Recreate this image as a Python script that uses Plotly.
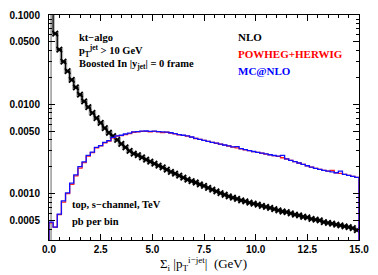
import plotly.graph_objects as go

# ---- data ----
bin_width = 0.2
n_bins = 75
bin_edges = [round(i * bin_width, 1) for i in range(n_bins + 1)]
bin_centers = [round((i + 0.5) * bin_width, 2) for i in range(n_bins)]

nlo = [0.5, 0.062, 0.041, 0.030, 0.0235, 0.0188, 0.0155, 0.0128, 0.0108, 0.0093,
       0.0080, 0.0070, 0.0062, 0.0054, 0.0048, 0.0044, 0.0040, 0.0036, 0.0033, 0.0030,
       0.0028, 0.0027, 0.00255, 0.0024, 0.00228, 0.00216, 0.00206, 0.00196, 0.00185, 0.00175,
       0.00167, 0.00159, 0.00151, 0.00143, 0.00138, 0.00133, 0.00127, 0.00122, 0.00116, 0.00111,
       0.00106, 0.00101, 0.00097, 0.00093, 0.00090, 0.00087, 0.00084, 0.00082, 0.00079, 0.00077,
       0.00075, 0.00073, 0.00071, 0.00069, 0.00067, 0.00065, 0.00063, 0.00062, 0.00060, 0.00058,
       0.00057, 0.00055, 0.00054, 0.00052, 0.00051, 0.00050, 0.00048, 0.00047, 0.00046, 0.00045,
       0.00044, 0.00043, 0.00042, 0.00041, 0.00039]

powheg = [0.00047, 0.00042, 0.00058, 0.00080, 0.00100, 0.00127, 0.00158, 0.00193, 0.00222, 0.00262,
          0.00287, 0.00325, 0.00342, 0.00370, 0.00388, 0.00420, 0.00440, 0.00446, 0.00458, 0.00470,
          0.00486, 0.00492, 0.00498, 0.00496, 0.00490, 0.00497, 0.00492, 0.00482, 0.00486, 0.00476,
          0.00468, 0.00456, 0.00448, 0.00440, 0.00428, 0.00414, 0.00404, 0.00394, 0.00384, 0.00374,
          0.00366, 0.00357, 0.00349, 0.00341, 0.00332, 0.00325, 0.00317, 0.00309, 0.00302, 0.00295,
          0.00289, 0.00283, 0.00277, 0.00271, 0.00266, 0.00261, 0.00252, 0.00244, 0.00236, 0.00228,
          0.00220, 0.00212, 0.00205, 0.00198, 0.00192, 0.00187, 0.00182, 0.00178, 0.00182, 0.00171,
          0.00168, 0.00164, 0.00160, 0.00156, 0.00152]

mcatnlo = [0.00048, 0.00042, 0.00059, 0.00083, 0.00102, 0.00131, 0.00162, 0.00200, 0.00226, 0.00268,
           0.00291, 0.00330, 0.00345, 0.00375, 0.00391, 0.00425, 0.00443, 0.00450, 0.00465, 0.00475,
           0.00490, 0.00495, 0.00500, 0.00502, 0.00498, 0.00500, 0.00495, 0.00490, 0.00488, 0.00480,
           0.00470, 0.00458, 0.00450, 0.00442, 0.00430, 0.00416, 0.00405, 0.00395, 0.00385, 0.00375,
           0.00367, 0.00358, 0.00350, 0.00342, 0.00333, 0.00335, 0.00318, 0.00310, 0.00303, 0.00296,
           0.00290, 0.00284, 0.00278, 0.00272, 0.00267, 0.00262, 0.00268, 0.00245, 0.00236, 0.00228,
           0.00220, 0.00212, 0.00205, 0.00198, 0.00192, 0.00187, 0.00182, 0.00178, 0.00175, 0.00171,
           0.00178, 0.00164, 0.00160, 0.00156, 0.00152]

first_bin_band = (1e-4, 1.0)

y_ticks = [0.0005, 0.0010, 0.0050, 0.0100, 0.0500, 0.1000]
y_tick_text = ["0.0005", "0.0010", "0.0050", "0.0100", "0.0500", "0.1000"]
y_minor = [m * 10.0 ** k for k in (-4, -3, -2) for m in (2, 3, 4, 6, 7, 8, 9)]
x_ticks = [0.0, 2.5, 5.0, 7.5, 10.0, 12.5, 15.0]
x_tick_text = ["0.0", "2.5", "5.0", "7.5", "10.0", "12.5", "15.0"]
x_minor = [round(0.5 * i, 1) for i in range(31)]

y_floor = 1e-4
log_range = [-3.52, -1.0]

W, H = 378, 275
ML, MR, MT, MB = 44, 10, 9, 35
PW, PH = W - ML - MR, H - MT - MB


def px_to_paper(px, py):
    return (px - ML) / PW, (H - MB - py) / PH


def step_xy(vals, closed):
    xs = list(bin_edges)
    ys = list(vals) + [vals[-1]]
    if closed:
        xs = [bin_edges[0]] + xs + [bin_edges[-1]]
        ys = [y_floor] + ys + [y_floor]
    return xs, ys


fig = go.Figure()

# NLO gray band (approximate)
xs, ys = step_xy(nlo, False)
fig.add_trace(go.Scatter(x=xs, y=ys, mode="lines", line_shape="hv",
                         line=dict(color="#b4b4b4", width=3.5), hoverinfo="skip"))
fig.add_trace(go.Scatter(x=[bin_centers[0], bin_centers[0]], y=list(first_bin_band), mode="lines",
                         line=dict(color="#9a9a9a", width=1.5), hoverinfo="skip"))
fig.add_trace(go.Scatter(x=xs, y=ys, mode="lines", line_shape="hv",
                         line=dict(color="black", width=1.2), name="NLO"))
fig.add_trace(go.Scatter(x=bin_centers[1:], y=nlo[1:], mode="markers",
                         marker=dict(symbol="x-thin", size=5.5, line=dict(color="black", width=1.8)),
                         hoverinfo="skip"))

xs, ys = step_xy(powheg, True)
fig.add_trace(go.Scatter(x=xs, y=ys, mode="lines", line_shape="hv",
                         line=dict(color="#ff2020", width=1.3), name="POWHEG+HERWIG"))
xs, ys = step_xy(mcatnlo, True)
fig.add_trace(go.Scatter(x=xs, y=ys, mode="lines", line_shape="hv",
                         line=dict(color="#1010ff", width=1.3), name="MC@NLO"))

serif = "Liberation Serif"
ann_font = dict(family=serif, size=10.5, color="black", weight="bold")
anns = [
    (73, 32, "kt−algo"),
    (73, 46, "p<sub>T</sub><sup>jet</sup> > 10 GeV"),
    (73, 60, "Boosted In |y<sub>jet</sub>| = 0 frame"),
    (66, 204, "top, s−channel, TeV"),
    (66, 221, "pb per bin"),
]
for px, py, t in anns:
    ax, ay = px_to_paper(px, py)
    fig.add_annotation(x=ax, y=ay, xref="paper", yref="paper",
                       xanchor="left", yanchor="middle", text=t, showarrow=False,
                       font=ann_font)

leg = [("NLO", "black", 32), ("POWHEG+HERWIG", "#ff0000", 49), ("MC@NLO", "#0000ff", 66)]
for t, c, py in leg:
    ax, ay = px_to_paper(239, py)
    fig.add_annotation(x=ax, y=ay, xref="paper", yref="paper",
                       xanchor="left", yanchor="middle", text=t, showarrow=False,
                       font=dict(family=serif, size=11, color=c, weight="bold"))

ax, ay = px_to_paper(205, 265)
fig.add_annotation(x=ax, y=ay, xref="paper", yref="paper",
                   xanchor="center", yanchor="middle",
                   text="Σ<sub>i</sub> |p<sub>T</sub><sup>i−jet</sup>|  (GeV)", showarrow=False,
                   font=dict(family=serif, size=13, color="black"))

tick_font = dict(family="Liberation Sans", size=10, color="black", weight="bold")
fig.update_xaxes(range=[0, 15], tickmode="array", tickvals=x_ticks, ticktext=x_tick_text,
                 ticks="inside", ticklen=6, tickwidth=1, tickcolor="black",
                 showline=True, linecolor="black", linewidth=1, mirror="ticks",
                 showgrid=False, zeroline=False, tickfont=tick_font,
                 ticklabeloverflow="allow",
                 minor=dict(tickmode="array", tickvals=x_minor, ticks="inside", ticklen=3,
                            tickcolor="black", showgrid=False))
fig.update_yaxes(type="log", range=log_range, tickmode="array", tickvals=y_ticks,
                 ticktext=y_tick_text, ticks="inside", ticklen=6, tickwidth=1, tickcolor="black",
                 showline=True, linecolor="black", linewidth=1, mirror="ticks",
                 showgrid=False, zeroline=False, tickfont=tick_font, ticklabelstandoff=6,
                 minor=dict(tickmode="array", tickvals=y_minor, ticks="inside", ticklen=3,
                            tickcolor="black", showgrid=False))

fig.update_layout(width=W, height=H, margin=dict(l=ML, r=MR, t=MT, b=MB),
                  plot_bgcolor="white", paper_bgcolor="white", showlegend=False)

fig.write_html("out.html", config={"displayModeBar": False},
               post_script="document.body.style.margin='0';document.body.style.overflow='hidden';")
